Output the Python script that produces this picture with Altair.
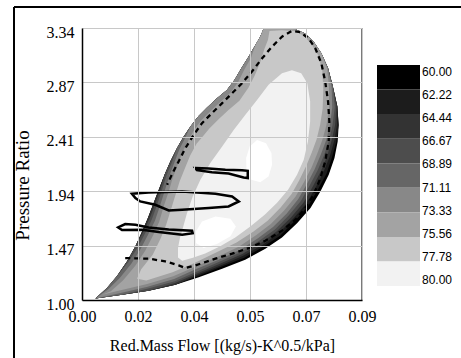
import altair as alt
import pandas as pd

# ---------------- data ----------------
# outer boundary of the map: right/bottom chain (from lower-left tip up to the top) and left chain (top to tip)
edge_rx = [0.0042, 0.0125, 0.0208, 0.0292, 0.0365, 0.0438, 0.0510, 0.0573, 0.0625, 0.0672, 0.0714, 0.0745, 0.0771, 0.0789, 0.0799, 0.0802, 0.0798, 0.0784, 0.0769, 0.0748, 0.0724, 0.0696, 0.0667, 0.0625]
edge_ry = [1.012, 1.046, 1.080, 1.132, 1.195, 1.270, 1.347, 1.442, 1.539, 1.662, 1.792, 1.935, 2.078, 2.222, 2.365, 2.508, 2.666, 2.838, 2.996, 3.125, 3.225, 3.297, 3.331, 3.340]
edge_lx = [0.0568, 0.0557, 0.0542, 0.0521, 0.0498, 0.0477, 0.0453, 0.0422, 0.0391, 0.0363, 0.0339, 0.0318, 0.0297, 0.0276, 0.0258, 0.0242, 0.0224, 0.0206, 0.0188, 0.0167, 0.0141, 0.0109, 0.0078]
edge_ly = [3.340, 3.268, 3.197, 3.096, 2.996, 2.896, 2.809, 2.738, 2.658, 2.580, 2.494, 2.408, 2.308, 2.193, 2.078, 1.964, 1.835, 1.706, 1.591, 1.462, 1.333, 1.204, 1.103]

# efficiency >= 62.22
r1x = [0.0042, 0.0125, 0.0208, 0.0292, 0.0364, 0.0435, 0.0507, 0.0569, 0.0620, 0.0665, 0.0706, 0.0736, 0.0764, 0.0781, 0.0795, 0.0802, 0.0798, 0.0784, 0.0769, 0.0748, 0.0724, 0.0696, 0.0667, 0.0625]
r1y = [1.012, 1.046, 1.080, 1.132, 1.207, 1.287, 1.364, 1.462, 1.556, 1.680, 1.806, 1.946, 2.087, 2.227, 2.365, 2.508, 2.666, 2.838, 2.996, 3.125, 3.225, 3.297, 3.331, 3.340]
# efficiency >= 64.44
r2x = [0.0042, 0.0125, 0.0208, 0.0292, 0.0361, 0.0433, 0.0504, 0.0565, 0.0615, 0.0659, 0.0699, 0.0728, 0.0754, 0.0774, 0.0788, 0.0797, 0.0798, 0.0784, 0.0769, 0.0748, 0.0724, 0.0696, 0.0667, 0.0625]
r2y = [1.012, 1.046, 1.080, 1.132, 1.218, 1.298, 1.381, 1.476, 1.574, 1.697, 1.823, 1.958, 2.095, 2.233, 2.368, 2.508, 2.666, 2.838, 2.996, 3.125, 3.225, 3.297, 3.331, 3.340]
# efficiency >= 66.67
r3x = [0.0042, 0.0125, 0.0208, 0.0291, 0.0359, 0.0431, 0.0501, 0.0560, 0.0608, 0.0653, 0.0692, 0.0720, 0.0746, 0.0766, 0.0780, 0.0791, 0.0795, 0.0784, 0.0769, 0.0748, 0.0724, 0.0696, 0.0667, 0.0625]
r3y = [1.012, 1.046, 1.080, 1.146, 1.229, 1.313, 1.396, 1.493, 1.591, 1.711, 1.837, 1.972, 2.107, 2.239, 2.371, 2.508, 2.666, 2.838, 2.996, 3.125, 3.225, 3.297, 3.331, 3.340]
l3x = [0.0568, 0.0557, 0.0542, 0.0521, 0.0498, 0.0477, 0.0453, 0.0422, 0.0391, 0.0363, 0.0339, 0.0318, 0.0297, 0.0276, 0.0258, 0.0246, 0.0229, 0.0211, 0.0192, 0.0167, 0.0141, 0.0109, 0.0078]
l3y = [3.340, 3.268, 3.197, 3.096, 2.996, 2.896, 2.809, 2.738, 2.658, 2.580, 2.494, 2.408, 2.308, 2.193, 2.078, 1.961, 1.829, 1.700, 1.588, 1.462, 1.333, 1.204, 1.103]
# efficiency >= 68.89
r4x = [0.0042, 0.0125, 0.0207, 0.0290, 0.0358, 0.0429, 0.0498, 0.0555, 0.0603, 0.0646, 0.0684, 0.0711, 0.0736, 0.0756, 0.0772, 0.0783, 0.0790, 0.0784, 0.0769, 0.0748, 0.0724, 0.0696, 0.0667, 0.0625]
r4y = [1.012, 1.046, 1.098, 1.161, 1.244, 1.330, 1.413, 1.513, 1.608, 1.728, 1.852, 1.984, 2.116, 2.245, 2.374, 2.508, 2.663, 2.838, 2.996, 3.125, 3.225, 3.297, 3.331, 3.340]
l4x = [0.0568, 0.0557, 0.0542, 0.0521, 0.0498, 0.0477, 0.0453, 0.0422, 0.0391, 0.0363, 0.0339, 0.0318, 0.0297, 0.0281, 0.0264, 0.0251, 0.0235, 0.0218, 0.0198, 0.0174, 0.0145, 0.0109, 0.0078]
l4y = [3.340, 3.268, 3.197, 3.096, 2.996, 2.896, 2.809, 2.738, 2.658, 2.580, 2.494, 2.408, 2.308, 2.187, 2.073, 1.955, 1.823, 1.694, 1.579, 1.453, 1.327, 1.204, 1.103]
# efficiency >= 71.11
r5x = [0.0042, 0.0124, 0.0205, 0.0288, 0.0355, 0.0427, 0.0495, 0.0551, 0.0597, 0.0640, 0.0676, 0.0703, 0.0727, 0.0746, 0.0763, 0.0775, 0.0782, 0.0780, 0.0769, 0.0748, 0.0724, 0.0696, 0.0667, 0.0625]
r5y = [1.012, 1.063, 1.115, 1.181, 1.264, 1.347, 1.433, 1.533, 1.628, 1.746, 1.869, 1.998, 2.127, 2.250, 2.376, 2.508, 2.660, 2.835, 2.996, 3.125, 3.225, 3.297, 3.331, 3.340]
l5x = [0.0568, 0.0557, 0.0542, 0.0521, 0.0498, 0.0477, 0.0453, 0.0422, 0.0391, 0.0363, 0.0339, 0.0323, 0.0304, 0.0288, 0.0272, 0.0259, 0.0244, 0.0228, 0.0208, 0.0183, 0.0154, 0.0118, 0.0082]
l5y = [3.340, 3.268, 3.197, 3.096, 2.996, 2.896, 2.809, 2.738, 2.658, 2.580, 2.494, 2.399, 2.296, 2.179, 2.061, 1.946, 1.814, 1.683, 1.571, 1.439, 1.313, 1.189, 1.092]
# efficiency >= 73.33
r6x = [0.0063, 0.0124, 0.0204, 0.0285, 0.0352, 0.0424, 0.0490, 0.0545, 0.0590, 0.0631, 0.0667, 0.0693, 0.0717, 0.0735, 0.0751, 0.0764, 0.0772, 0.0772, 0.0766, 0.0748, 0.0724, 0.0696, 0.0667, 0.0625]
r6y = [1.046, 1.086, 1.138, 1.204, 1.284, 1.373, 1.459, 1.559, 1.654, 1.769, 1.889, 2.012, 2.138, 2.259, 2.379, 2.508, 2.655, 2.830, 2.993, 3.125, 3.225, 3.297, 3.331, 3.340]
l6x = [0.0568, 0.0557, 0.0542, 0.0528, 0.0507, 0.0488, 0.0464, 0.0432, 0.0401, 0.0373, 0.0351, 0.0334, 0.0315, 0.0299, 0.0283, 0.0271, 0.0255, 0.0241, 0.0222, 0.0197, 0.0166, 0.0128, 0.0090]
l6y = [3.340, 3.268, 3.197, 3.085, 2.982, 2.878, 2.784, 2.706, 2.626, 2.549, 2.468, 2.382, 2.279, 2.164, 2.047, 1.935, 1.803, 1.671, 1.556, 1.422, 1.293, 1.169, 1.075]
# efficiency >= 75.56
r7x = [0.0201, 0.0283, 0.0348, 0.0419, 0.0483, 0.0536, 0.0580, 0.0620, 0.0655, 0.0679, 0.0701, 0.0718, 0.0733, 0.0744, 0.0752, 0.0754, 0.0751, 0.0738, 0.0717, 0.0692, 0.0666, 0.0625]
r7y = [1.169, 1.238, 1.315, 1.410, 1.496, 1.591, 1.683, 1.794, 1.912, 2.032, 2.156, 2.270, 2.382, 2.508, 2.646, 2.815, 2.976, 3.108, 3.205, 3.277, 3.314, 3.323]
l7x = [0.0586, 0.0581, 0.0570, 0.0556, 0.0539, 0.0520, 0.0492, 0.0457, 0.0426, 0.0398, 0.0378, 0.0358, 0.0338, 0.0322, 0.0305, 0.0293, 0.0278, 0.0263, 0.0246, 0.0221, 0.0185, 0.0172]
l7y = [3.317, 3.240, 3.162, 3.039, 2.930, 2.827, 2.715, 2.635, 2.554, 2.477, 2.411, 2.345, 2.245, 2.136, 2.021, 1.912, 1.780, 1.648, 1.531, 1.390, 1.264, 1.184]
# efficiency >= 77.78
p8x = [0.0625, 0.0656, 0.0685, 0.0704, 0.0713, 0.0713, 0.0706, 0.0693, 0.0672, 0.0644, 0.0609, 0.0571, 0.0526, 0.0479, 0.0432, 0.0385, 0.0344, 0.0313, 0.0300, 0.0300, 0.0306, 0.0315, 0.0328, 0.0346, 0.0370, 0.0401, 0.0438, 0.0474, 0.0510, 0.0547, 0.0583]
p8y = [2.953, 2.979, 2.953, 2.867, 2.709, 2.537, 2.365, 2.207, 2.078, 1.949, 1.835, 1.734, 1.634, 1.539, 1.462, 1.401, 1.361, 1.338, 1.367, 1.447, 1.533, 1.619, 1.748, 1.892, 2.035, 2.179, 2.322, 2.465, 2.594, 2.723, 2.853]
# efficiency above 80 (white spots)
w1x = [0.0547, 0.0575, 0.0592, 0.0594, 0.0583, 0.0557, 0.0529, 0.0514, 0.0513, 0.0524]
w1y = [2.379, 2.351, 2.265, 2.164, 2.064, 2.015, 2.035, 2.121, 2.222, 2.322]
w2x = [0.0375, 0.0417, 0.0464, 0.0481, 0.0464, 0.0422, 0.0380, 0.0356, 0.0356]
w2y = [1.677, 1.720, 1.700, 1.634, 1.548, 1.482, 1.447, 1.490, 1.591]

# dashed line
dash_x = [0.0135, 0.0208, 0.0260, 0.0302, 0.0323, 0.0354, 0.0417, 0.0469, 0.0521, 0.0573, 0.0625, 0.0667, 0.0698, 0.0724, 0.0745, 0.0760, 0.0771, 0.0773, 0.0769, 0.0760, 0.0748, 0.0729, 0.0708, 0.0682, 0.0656, 0.0625, 0.0594, 0.0563, 0.0531, 0.0500, 0.0469, 0.0438, 0.0406, 0.0375, 0.0349, 0.0323, 0.0302, 0.0283, 0.0266]
dash_y = [1.361, 1.356, 1.333, 1.298, 1.275, 1.298, 1.356, 1.399, 1.447, 1.510, 1.597, 1.691, 1.791, 1.906, 2.050, 2.193, 2.365, 2.537, 2.709, 2.881, 3.039, 3.168, 3.254, 3.306, 3.317, 3.268, 3.182, 3.082, 2.967, 2.867, 2.781, 2.695, 2.609, 2.523, 2.422, 2.308, 2.193, 2.093, 1.992]

# black operating loops
loop1_x = [0.0354, 0.0396, 0.0448, 0.0500, 0.0518, 0.0518, 0.0505, 0.0458, 0.0406, 0.0359]
loop1_y = [2.136, 2.133, 2.121, 2.118, 2.113, 2.050, 2.055, 2.090, 2.101, 2.118]
loop2_x = [0.0156, 0.0208, 0.0313, 0.0417, 0.0469, 0.0490, 0.0458, 0.0396, 0.0313, 0.0271, 0.0229, 0.0182, 0.0167]
loop2_y = [1.915, 1.926, 1.935, 1.915, 1.892, 1.849, 1.806, 1.792, 1.777, 1.771, 1.820, 1.849, 1.878]
loop3_x = [0.0113, 0.0135, 0.0167, 0.0208, 0.0271, 0.0344, 0.0346, 0.0313, 0.0240, 0.0188, 0.0125]
loop3_y = [1.625, 1.654, 1.648, 1.625, 1.608, 1.596, 1.576, 1.562, 1.585, 1.605, 1.602]

band_colors = ["#000000", "#1c1c1c", "#333333", "#4d4d4d", "#666666", "#888888", "#a3a3a3", "#c8c8c8", "#f2f2f2"]
band_mid = [61.11, 63.33, 65.56, 67.78, 70.00, 72.22, 74.44, 76.67, 78.89]
band_lo = [60.0, 62.222, 64.444, 66.667, 68.889, 71.111, 73.333, 75.556, 77.778]
band_hi = [62.222, 64.444, 66.667, 68.889, 71.111, 73.333, 75.556, 77.778, 80.0]
legend_labels = [60.0, 62.222, 64.444, 66.667, 68.889, 71.111, 73.333, 75.556, 77.778, 80.0]
eff_range = [60.0, 80.0]

x_ticks = [0.0, 0.0175, 0.035, 0.0525, 0.07, 0.0875]
y_ticks = [1.0, 1.4685, 1.937, 2.4055, 2.874, 3.3425]

# ---------------- chart ----------------
level_polys = [
    (edge_rx + edge_lx, edge_ry + edge_ly),
    (r1x + edge_lx, r1y + edge_ly),
    (r2x + edge_lx, r2y + edge_ly),
    (r3x + l3x, r3y + l3y),
    (r4x + l4x, r4y + l4y),
    (r5x + l5x, r5y + l5y),
    (r6x + l6x, r6y + l6y),
    (r7x + l7x, r7y + l7y),
    (p8x, p8y),
]


def frame(xv, yv, eff=None):
    d = {"flow": xv, "pr": yv, "k": list(range(len(xv)))}
    if eff is not None:
        d["eff"] = [eff] * len(xv)
    return pd.DataFrame(d)


X = alt.X("flow:Q", scale=alt.Scale(domain=[0.0, 0.0875], nice=False, zero=False),
          axis=alt.Axis(values=x_ticks, format=".2f", title="Red.Mass Flow [(kg/s)-K^0.5/kPa]",
                        labelFlush=False, labelPadding=8, titleX=140, titleY=50, titleFontSize=16,
                        titleAlign="center", titleBaseline="alphabetic", zindex=1))
Y = alt.Y("pr:Q", scale=alt.Scale(domain=[1.0, 3.3425], nice=False, zero=False),
          axis=alt.Axis(values=y_ticks, format=".2f", title="Pressure Ratio",
                        labelPadding=8, labelOffset=4, titleX=-60, titleY=157, titleFontSize=19,
                        titleAngle=270, titleAlign="center", titleBaseline="middle", zindex=1))
color_scale = alt.Scale(type="quantize", domain=eff_range, range=band_colors, nice=False)

plot_layers = []
for (xv, yv), eff in zip(level_polys, band_mid):
    plot_layers.append(
        alt.Chart(frame(xv, yv, eff)).mark_line(interpolate="linear-closed", strokeWidth=0)
        .encode(x=X, y=Y, order="k:Q",
                fill=alt.Fill("eff:Q", scale=color_scale, legend=None))
    )

for xv, yv in [(w1x, w1y), (w2x, w2y)]:
    plot_layers.append(
        alt.Chart(frame(xv, yv)).mark_line(interpolate="linear-closed", strokeWidth=0, fill="#ffffff")
        .encode(x=X, y=Y, order="k:Q")
    )

plot_layers.append(
    alt.Chart(frame(dash_x, dash_y)).mark_line(stroke="black", strokeWidth=2.3, strokeDash=[5, 4])
    .encode(x=X, y=Y, order="k:Q")
)
for xv, yv in [(loop1_x, loop1_y), (loop2_x, loop2_y), (loop3_x, loop3_y)]:
    plot_layers.append(
        alt.Chart(frame(xv, yv)).mark_line(interpolate="linear-closed", stroke="black", strokeWidth=2.5)
        .encode(x=X, y=Y, order="k:Q")
    )

one = pd.DataFrame({"a": [0]})
plot_layers.append(alt.Chart(one).mark_rule(color="#222222", strokeWidth=1.2)
                   .encode(x=alt.value(280), y=alt.value(0), y2=alt.value(272)))
plot_layers.append(alt.Chart(one).mark_rule(color="black", strokeWidth=2)
                   .encode(x=alt.value(-68), x2=alt.value(379), y=alt.value(-21)))
plot_layers.append(alt.Chart(one).mark_rule(color="black", strokeWidth=2)
                   .encode(x=alt.value(-68), y=alt.value(-21), y2=alt.value(330)))

plot_group = alt.layer(*plot_layers)

# colour bar legend (drawn as its own small layers)
bar_df = pd.DataFrame({"lo": band_lo, "hi": band_hi, "eff": band_mid})
legend_bar = alt.Chart(bar_df).mark_rect().encode(
    x=alt.value(295), x2=alt.value(338),
    y=alt.Y("lo:Q", scale=alt.Scale(domain=eff_range, range=[37, 258], nice=False, zero=False), axis=None),
    y2="hi:Q",
    fill=alt.Fill("eff:Q", scale=color_scale, legend=None),
)
lab_df = pd.DataFrame({"v": legend_labels})
legend_text = alt.Chart(lab_df).mark_text(align="left", baseline="middle", font="Liberation Sans",
                                          fontSize=12, color="black").encode(
    x=alt.value(340),
    y=alt.Y("v:Q", scale=alt.Scale(domain=eff_range, range=[44, 252], nice=False, zero=False), axis=None),
    text=alt.Text("v:Q", format=".2f"),
)

chart = (
    alt.layer(plot_group, legend_bar, legend_text)
    .resolve_scale(y="independent")
    .properties(width=280, height=272,
                padding={"left": 82, "top": 28, "right": 99, "bottom": 58},
                autosize=alt.AutoSizeParams(type="none"))
    .configure_view(strokeWidth=0)
    .configure_axis(labelFont="Liberation Serif", labelFontSize=16, labelColor="black",
                    titleFont="Liberation Serif", titleFontSize=15, titleFontWeight="normal",
                    titleColor="black", gridColor="#c8c8c8", gridWidth=1,
                    domainColor="black", domainWidth=1.5, ticks=False, labelOverlap=False)
)

chart.save("out.html", embed_options={"renderer": "svg", "actions": False})
